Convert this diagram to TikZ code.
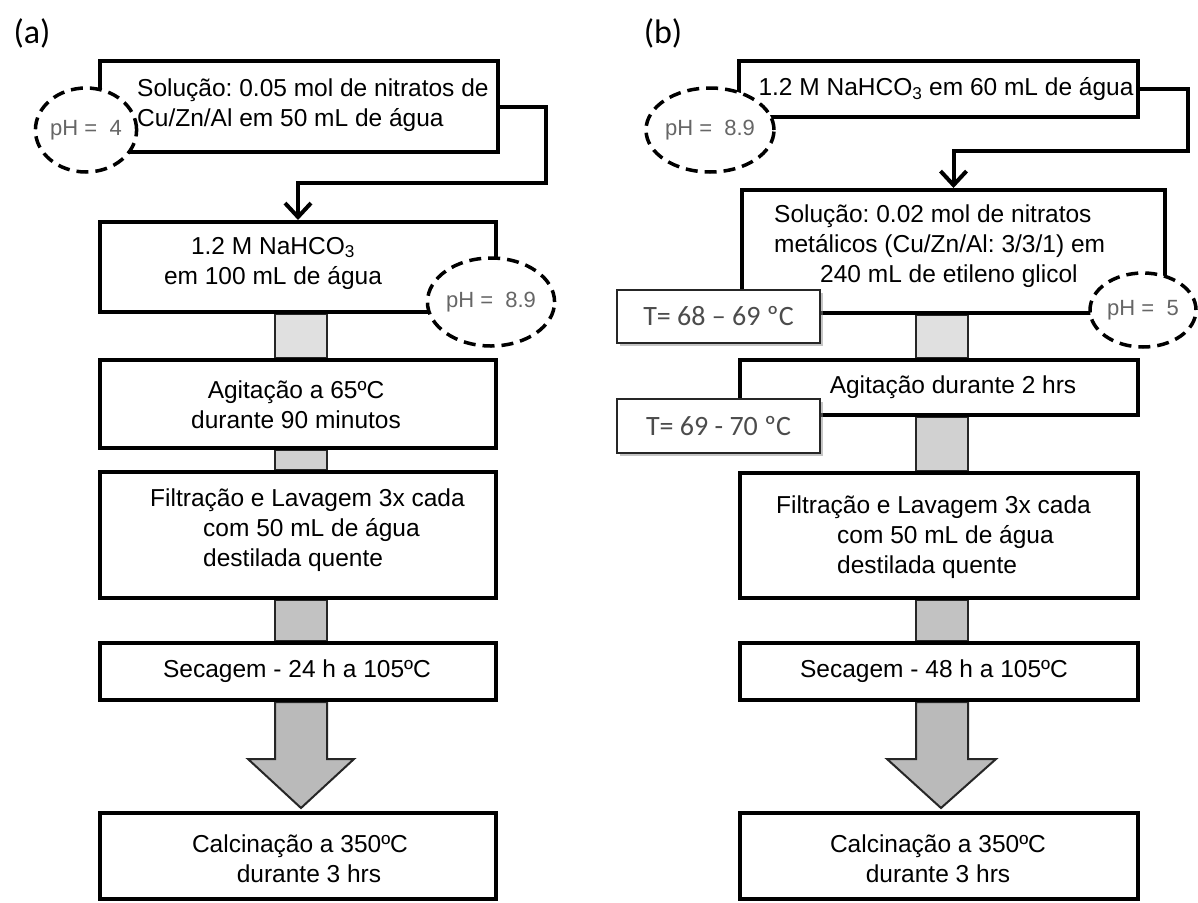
\documentclass[tikz,border=0pt]{standalone}
\usepackage{fontspec}
\setmainfont{Liberation Sans}
\newfontfamily\calib{Carlito}
\usetikzlibrary{shapes.geometric,arrows.meta,backgrounds,shadows,calc}
\newcommand\mainsz{\fontsize{24.5pt}{30pt}\selectfont}
\frenchspacing
\begin{document}
\begin{tikzpicture}[x=1pt,y=-1pt,
  box/.style={draw=black, line width=4pt, fill=white, inner sep=0pt},
  txt/.style={font=\mainsz, inner sep=0pt, text=black},
  phel/.style={ellipse, draw=black, line width=3.5pt, dash pattern=on 12pt off 7pt,
     fill=white, inner sep=0pt, text=black!60, font=\fontsize{22pt}{26pt}\selectfont},
  tbox/.style={draw=black!85, line width=2.5pt, fill=white, inner sep=0pt,
     minimum width=203pt, text=black!70, font=\calib\fontsize{28pt}{32pt}\selectfont,
     drop shadow={shadow xshift=3pt, shadow yshift=-3pt, fill=black!45, opacity=0.5}},
  conn/.style={line width=4pt, -{Straight Barb[length=14pt,width=26pt]}},
  barA/.style={draw=black!85, line width=2.5pt, fill=black!12},
  barB/.style={draw=black!85, line width=2.5pt, fill=black!18},
  barC/.style={draw=black!85, line width=2.5pt, fill=black!24},
  bigarr/.style={draw=black!85, line width=2pt, fill=black!27, line join=miter},
  lbl/.style={font=\calib\fontsize{34pt}{38pt}\selectfont, inner sep=0pt}
]
\useasboundingbox (0,0) rectangle (1198,902);
\begin{scope}[on background layer]
  \fill[white] (0,0) rectangle (1198,902);
\end{scope}

% labels
\node[lbl] (la) at (32,33) {(a)};
\node[lbl] (lb) at (663,33) {(b)};

% ---------- panel (a) boxes
\node[box, minimum width=398pt, minimum height=91pt] (a1) at (299,106.5) {};
\node[box, minimum width=396pt, minimum height=90pt] (a2) at (298,267) {};
\node[box, minimum width=396pt, minimum height=88pt] (a3) at (298,404) {};
\node[box, minimum width=396pt, minimum height=126pt] (a4) at (298,535) {};
\node[box, minimum width=396pt, minimum height=57pt] (a5) at (298,671.5) {};
\node[box, minimum width=396pt, minimum height=86pt] (a6) at (298,856) {};

% ---------- panel (b) boxes
\node[box, minimum width=399pt, minimum height=56pt] (b1) at (938.5,89) {};
\node[box, minimum width=423pt, minimum height=123pt] (b2) at (953.5,251.5) {};
\node[box, minimum width=398pt, minimum height=55pt] (b3) at (939,387.5) {};
\node[box, minimum width=398pt, minimum height=125pt] (b4) at (939,535.5) {};
\node[box, minimum width=398pt, minimum height=57pt] (b5) at (939,671.5) {};
\node[box, minimum width=398pt, minimum height=86pt] (b6) at (939,856) {};

% ---------- grey bars and big arrows (behind boxes)
\begin{scope}[on background layer]
  \foreach \u/\l/\s in {a2/a3/barA, a3/a4/barB, a4/a5/barC, b2/b3/barA, b3/b4/barB, b4/b5/barC}{
    \draw[\s] ($(\u.south -| \l.north)+(-23,0)$) rectangle ($(\l.north)+(29,0)$);
  }
  \draw[bigarr] ($(a5.south)+(-23,0)$) -- ($(a5.south)+(-23,57)$) -- ($(a5.south)+(-50,57)$)
     -- ($(a6.north)+(3,-3)$) -- ($(a5.south)+(56,57)$) -- ($(a5.south)+(29,57)$)
     -- ($(a5.south)+(29,0)$) -- cycle;
  \draw[bigarr] ($(b5.south)+(-23,0)$) -- ($(b5.south)+(-23,57)$) -- ($(b5.south)+(-52,57)$)
     -- ($(b6.north)+(2,-3)$) -- ($(b5.south)+(57,57)$) -- ($(b5.south)+(29,57)$)
     -- ($(b5.south)+(29,0)$) -- cycle;
\end{scope}

% ---------- connectors
\draw[conn] (a1.east) -- ++(46,0) |- ($(a2.north)+(0,-37)$) -- (a2.north);
\draw[conn] (b1.east) -- ++(48,0) |- ($(b2.north)+(0,-37)$) -- (b2.north);

% ---------- pH ellipses
\node[phel, minimum width=100pt, minimum height=84pt] (pha) at (86,130) {pH = \ 4};
\node[phel, minimum width=124pt, minimum height=88pt] (phb) at (491,302) {pH = \ 8.9};
\node[phel, minimum width=128pt, minimum height=84pt] (phc) at (710,130) {pH = \ 8.9};
\node[phel, minimum width=106pt, minimum height=74pt] (phd) at (1143,310) {pH = \ 5};

% ---------- temperature boxes
\node[tbox, minimum height=53pt] (t1) at (718.5,316.5) {T= 68 – 69 ºC};
\node[tbox, minimum height=54pt] (t2) at (718.5,426) {T= 69 - 70 ºC};

% ---------- texts (a)
\node[txt, anchor=west, align=left] (ta1) at (137,105)
  {Solução: 0.05 mol de nitratos de\\Cu/Zn/Al em 50 mL de água};
\node[txt, align=center] (ta2) at (273,263)
  {1.2 M NaHCO\textsubscript{3}\\em 100 mL de água};
\node[txt, align=center] (ta3) at (296,405)
  {Agitação a 65ºC\\durante 90 minutos};
\node[txt, anchor=west, align=left] (ta4) at (150,530)
  {Filtração e Lavagem 3x cada\\\hspace*{53pt}com 50 mL de água\\\hspace*{53pt}destilada quente};
\node[txt] (ta5) at (297,671) {Secagem - 24 h a 105ºC};
\node[txt, align=center] (ta6) at (300,859)
  {Calcinação a 350ºC\\\hspace*{18pt}durante 3 hrs};

% ---------- texts (b)
\node[txt] (tb1) at (946,89) {1.2 M NaHCO\textsubscript{3} em 60 mL de água};
\node[txt, anchor=west, align=left] (tb2) at (774,246)
  {Solução: 0.02 mol de nitratos\\metálicos (Cu/Zn/Al: 3/3/1) em\\\hspace*{46pt}240 mL de etileno glicol};
\node[txt] (tb3) at (953,387) {Agitação durante 2 hrs};
\node[txt, anchor=west, align=left] (tb4) at (776,537)
  {Filtração e Lavagem 3x cada\\\hspace*{61pt}com 50 mL de água\\\hspace*{61pt}destilada quente};
\node[txt] (tb5) at (934,671) {Secagem - 48 h a 105ºC};
\node[txt, align=center] (tb6) at (938,859)
  {Calcinação a 350ºC\\durante 3 hrs};
\end{tikzpicture}
\end{document}
